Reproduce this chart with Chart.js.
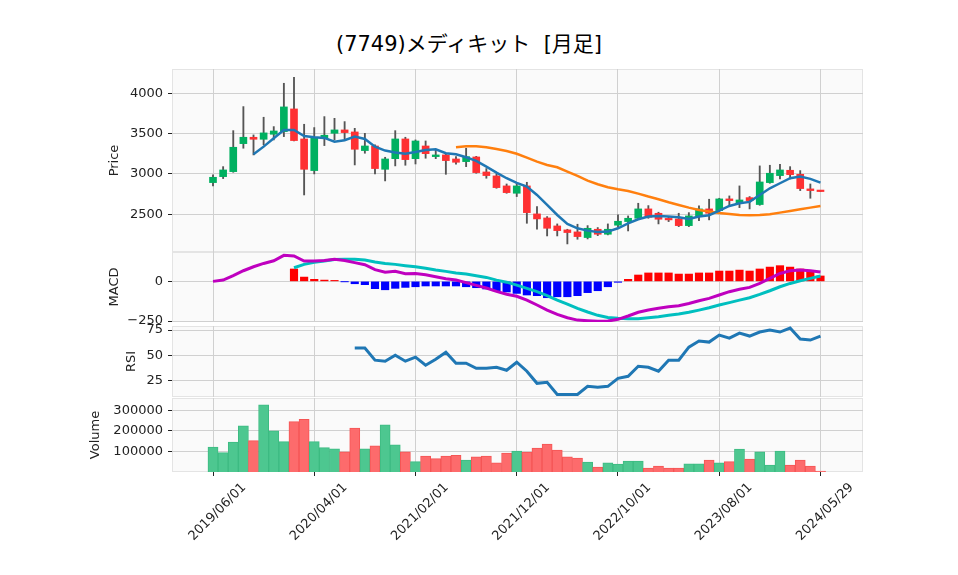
<!DOCTYPE html>
<html>
<head>
<meta charset="utf-8">
<script src="https://cdn.jsdelivr.net/npm/chart.js@4.4.1/dist/chart.umd.min.js"></script>
<style>
  body { margin: 0; background: #fff; }
  #wrap { position: relative; width: 958px; height: 575px; overflow: hidden; }
  #wrap canvas { position: absolute; left: 0; }
  #title { position: absolute; left: 0; width: 938px; top: 27px; text-align: center;
           font: 21px "DejaVu Sans", "Noto Sans CJK JP", sans-serif; white-space: pre; color: #000; }
</style>
</head>
<body>
<div id="wrap">
  <div id="title">(7749)メディキット  [月足]</div>
  <canvas id="price" width="958" height="200" style="top:60px"></canvas>
  <canvas id="macd" width="958" height="80" style="top:247px"></canvas>
  <canvas id="rsi" width="958" height="81" style="top:321px"></canvas>
  <canvas id="vol" width="958" height="182" style="top:393px"></canvas>
</div>
<script>
// monthly bars, index 0 = 2019/06 ... index 60 = 2024/05/29
var tickPos = [0, 10, 20, 30, 40, 50, 60];
var tickLabels = ['2019/06/01', '2020/04/01', '2021/02/01', '2021/12/01', '2022/10/01', '2023/08/01', '2024/05/29'];

var opens  = [2893,2967,3029,3376,3455,3430,3492,3525,3806,3434,3042,3442,3504,3546,3521,3290,3347,3058,3190,3434,
              3190,3347,3215,3236,3186,3153,3211,3025,2976,2852,2761,2852,2505,2455,2356,2307,2282,2212,2315,2253,
              2365,2410,2451,2567,2513,2443,2443,2360,2472,2567,2546,2691,2637,2707,2621,2893,2980,3046,2996,2815,2790];
var highs  = [2988,3091,3537,3835,3484,3703,3587,4124,4198,3616,3575,3711,3690,3649,3566,3504,3360,3207,3537,3455,
              3422,3409,3298,3257,3215,3319,3219,3067,3001,2876,2885,2897,2596,2472,2381,2315,2377,2360,2336,2381,
              2493,2480,2637,2608,2526,2472,2513,2521,2604,2687,2699,2728,2852,2720,3100,3108,3120,3091,3042,2876,2790];
var lows   = [2852,2943,3021,3319,3236,3360,3422,3463,3409,2740,3001,3352,3422,3422,3112,3257,3001,2914,3100,3108,
              3124,3195,3190,2996,3120,3091,3009,2947,2823,2761,2720,2389,2315,2232,2232,2133,2191,2195,2236,2245,
              2348,2294,2439,2451,2381,2410,2348,2348,2422,2431,2513,2616,2583,2567,2612,2885,2939,2939,2794,2699,2782];
var closes = [2959,3050,3331,3455,3430,3509,3533,3831,3414,3058,3451,3480,3546,3513,3306,3347,3067,3186,3434,3178,
              3409,3252,3236,3166,3145,3215,3017,2980,2831,2769,2852,2521,2443,2327,2298,2274,2224,2327,2253,2315,
              2414,2451,2567,2464,2439,2431,2360,2480,2567,2513,2691,2670,2678,2670,2901,3009,3050,2992,2819,2794,2782];
var volumes = [121000,94000,145000,224000,152000,326000,200000,147000,244000,256000,147000,118000,113000,98000,213000,
               113000,127000,229000,132000,98000,50000,77000,65000,77000,81000,58000,73000,77000,44000,92000,
               102000,97000,116000,135000,106000,73000,68000,48000,24000,44000,39000,53000,53000,19000,29000,
               19000,19000,40000,40000,58000,44000,50000,111000,63000,98000,34000,102000,34000,58000,29000,5000];

var ma5 = [null,null,null,null,3244,3339,3442,3546,3546,3471,3455,3447,3401,3418,3463,3434,3339,3290,3265,3252,
           3273,3298,3306,3257,3244,3207,3162,3091,3017,2947,2890,2843,2740,2616,2492,2381,2327,2298,2282,2286,
           2327,2389,2439,2472,2480,2472,2464,2443,2472,2489,2546,2604,2637,2654,2740,2823,2885,2947,2967,2939,2893];
var ma25 = [null,null,null,null,null,null,null,null,null,null,null,null,null,null,null,null,null,null,null,null,
            null,null,null,null,3331,3343,3343,3331,3310,3285,3250,3203,3153,3112,3083,3029,2976,2918,2873,2835,
            2810,2790,2757,2720,2687,2650,2616,2583,2554,2534,2517,2505,2493,2489,2493,2501,2521,2542,2563,2583,2604];

var macdLine = [0,8,36,67,92,113,130,164,160,128,128,132,139,132,118,105,74,57,63,48,
                50,42,29,17,8,-8,-25,-42,-63,-81,-94,-118,-149,-181,-208,-229,-244,-248,-252,-250,
                -239,-218,-195,-181,-170,-160,-153,-139,-122,-107,-86,-65,-50,-38,-13,19,50,67,71,67,59];
var signalLine = [null,null,null,null,null,null,null,null,86,107,120,128,137,139,139,134,122,113,107,99,
                  92,82,71,63,53,46,36,25,8,-5,-24,-44,-65,-90,-118,-143,-170,-193,-214,-227,
                  -233,-235,-235,-229,-223,-214,-206,-195,-181,-166,-149,-134,-118,-103,-82,-59,-34,-13,4,19,34];
var histValues = [null,null,null,null,null,null,null,null,78,27,13,8,6,-1,-15,-21,-46,-53,-44,-38,
                  -34,-29,-29,-29,-29,-34,-40,-48,-59,-67,-76,-86,-90,-103,-97,-97,-90,-71,-59,-34,
                  -6,13,40,53,53,53,46,46,53,53,65,65,71,65,78,90,99,90,78,59,34];

var rsiValues = [null,null,null,null,null,null,null,null,null,null,null,null,null,null,57,57,45,44,50,44,
                 48,40,46,53,42,42,37,37,38,35,43,34,22,23,11,11,11,19,18,19,
                 27,29,39,38,34,45,45,58,64,63,70,67,72,69,73,75,73,77,66,65,69];

var FONT = '"DejaVu Sans", "Noto Sans CJK JP", sans-serif';
var TEXT = '#222';
var UP = '#00b060', DOWN = '#fe3032';
var VOL_UP = '#4dc790', VOL_DOWN = '#fd6b6c';

function pts(arr) {
    return arr.map(function (v, i) { return {x: i, y: v}; });
}
function spans(a, b) {
    return a.map(function (v, i) { return {x: i, y: [v, b[i]]}; });
}

var candleColors = closes.map(function (c, i) { return c >= opens[i] ? UP : DOWN; });
var volColors = closes.map(function (c, i) {
    var ref = i === 0 ? opens[0] : closes[i - 1];
    return c >= ref ? VOL_UP : VOL_DOWN;
});
var volEdges = volColors.map(function (c) { return c === VOL_UP ? '#3dbb82' : '#f55555'; });
var histColors = histValues.map(function (v) { return v >= 0 ? '#ff0000' : '#0000ff'; });

var panelBg = {
    id: 'panelBg',
    beforeDraw: function (chart) {
        var a = chart.chartArea, ctx = chart.ctx;
        ctx.save();
        ctx.fillStyle = '#fafafa';
        ctx.fillRect(a.left, a.top, a.right - a.left, a.bottom - a.top);
        ctx.strokeStyle = '#e4e4e4';
        ctx.lineWidth = 1;
        ctx.strokeRect(a.left + 0.5, a.top + 0.5, a.right - a.left - 1, a.bottom - a.top - 1);
        ctx.restore();
    }
};

function panel(id, cfg) {
    var left = cfg.left;
    return new Chart(document.getElementById(id), {
        type: 'bar',
        data: {datasets: cfg.datasets},
        plugins: [panelBg],
        options: {
            responsive: false,
            animation: false,
            events: [],
            layout: {padding: {left: left, right: 958 - 863, top: cfg.padTop, bottom: cfg.padBottom}},
            plugins: {legend: {display: false}, tooltip: {enabled: false}},
            scales: {
                x: {
                    type: 'linear',
                    min: -4.05,
                    max: 64.2,
                    offset: false,
                    afterBuildTicks: function (s) { s.ticks = tickPos.map(function (v) { return {value: v}; }); },
                    afterFit: function (s) {
                        s.height = cfg.xHeight || 0;
                        s.paddingLeft = 0;
                        s.paddingRight = 0;
                    },
                    border: {display: false},
                    grid: {color: '#d0d0d0', offset: false, drawTicks: !!cfg.showX, tickLength: 4, tickColor: TEXT},
                    ticks: {
                        display: !!cfg.showX,
                        autoSkip: false,
                        minRotation: 45,
                        maxRotation: 45,
                        padding: 4,
                        labelOffset: 31,
                        color: TEXT,
                        font: {family: FONT, size: 13},
                        callback: function (v) { return tickLabels[tickPos.indexOf(v)]; }
                    }
                },
                y: {
                    position: 'left',
                    min: cfg.min,
                    max: cfg.max,
                    afterBuildTicks: function (s) { s.ticks = cfg.yTicks.map(function (v) { return {value: v}; }); },
                    afterFit: function (s) {
                        s.width = 172 - left;
                        s.paddingTop = 0;
                        s.paddingBottom = 0;
                    },
                    border: {display: false},
                    grid: {color: '#d0d0d0', tickLength: 4, tickColor: TEXT},
                    ticks: {
                        padding: 5,
                        color: TEXT,
                        font: {family: FONT, size: 13},
                        callback: function (v) { return v < 0 ? '\u2212' + (-v) : String(v); }
                    },
                    title: {display: true, text: cfg.title, color: TEXT, font: {family: FONT, size: 13},
                            padding: {top: 4, bottom: 4}}
                }
            }
        }
    });
}

panel('price', {
    left: 103, padTop: 9, padBottom: 8, min: 2033, max: 4301,
    yTicks: [2500, 3000, 3500, 4000], title: 'Price',
    datasets: [
        {type: 'line', data: pts(ma5), borderColor: '#1f77b4', borderWidth: 2.5, pointRadius: 0, tension: 0},
        {type: 'line', data: pts(ma25), borderColor: '#ff7f0e', borderWidth: 2.5, pointRadius: 0, tension: 0},
        {type: 'bar', data: spans(opens, closes), backgroundColor: candleColors, barThickness: 7,
         minBarLength: 1.5, grouped: false},
        {type: 'bar', data: spans(lows, highs), backgroundColor: '#555555', barThickness: 1.2, grouped: false}
    ]
});

panel('macd', {
    left: 103, padTop: 5, padBottom: 5, min: -256, max: 185,
    yTicks: [-250, 0], title: 'MACD',
    datasets: [
        {type: 'line', data: pts(macdLine), borderColor: '#bf00bf', borderWidth: 3, pointRadius: 0},
        {type: 'line', data: pts(signalLine), borderColor: '#00bfbf', borderWidth: 3, pointRadius: 0},
        {type: 'bar', data: pts(histValues), backgroundColor: histColors, barThickness: 7.5, grouped: false}
    ]
});

panel('rsi', {
    left: 120, padTop: 5, padBottom: 5, min: 8.4, max: 79,
    yTicks: [25, 50, 75], title: 'RSI',
    datasets: [
        {type: 'line', data: pts(rsiValues), borderColor: '#1f77b4', borderWidth: 3, pointRadius: 0}
    ]
});

panel('vol', {
    left: 84, padTop: 5, padBottom: 0, min: 0, max: 359000, showX: true, xHeight: 103,
    yTicks: [100000, 200000, 300000], title: 'Volume',
    datasets: [
        {type: 'bar', data: pts(volumes), backgroundColor: volColors, borderColor: volEdges, borderWidth: 1,
         barThickness: 10.1, grouped: false}
    ]
});
</script>
</body>
</html>
